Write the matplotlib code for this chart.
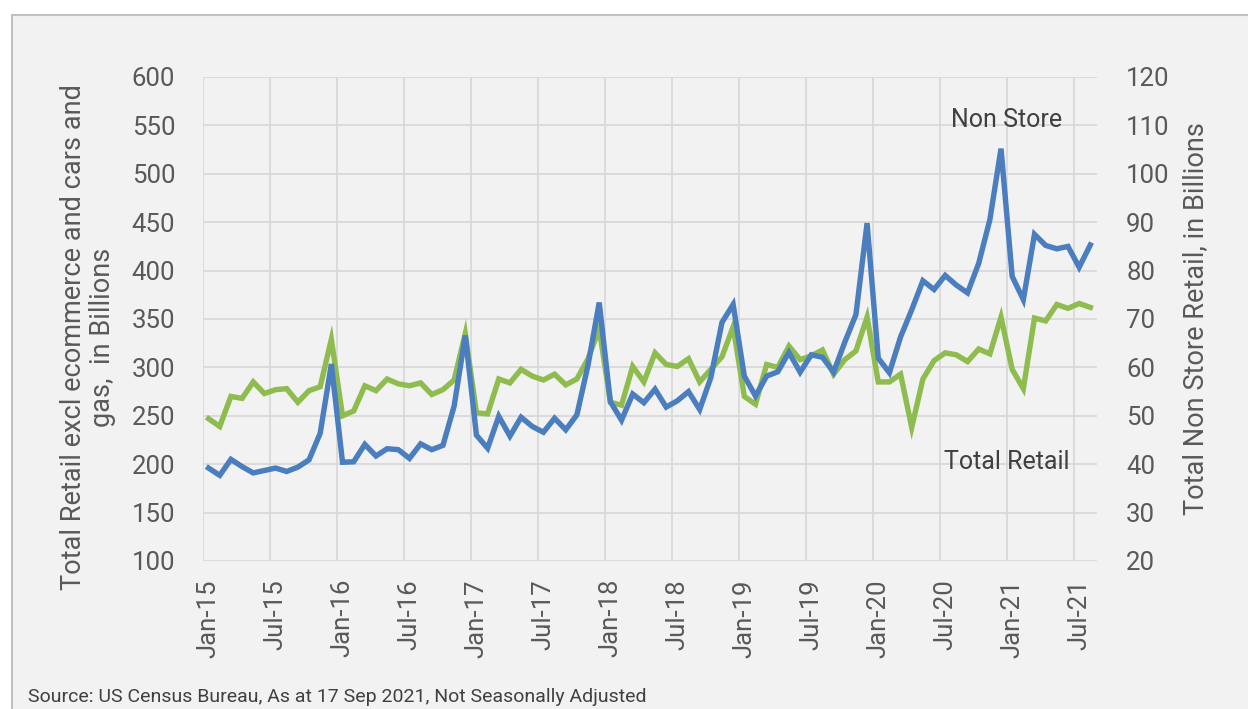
import matplotlib
matplotlib.use("Agg")
import matplotlib.pyplot as plt
from matplotlib.patches import Rectangle

# monthly data Jan-15 .. Aug-21
total_retail = [247, 239, 270, 268, 285, 273, 277, 278, 264, 276, 280, 329,
                250, 255, 281, 276, 288, 283, 281, 284, 272, 277, 287, 335,
                253, 252, 288, 284, 298, 291, 287, 293, 282, 288, 309, 340,
                264, 261, 301, 285, 315, 303, 301, 309, 285, 298, 311, 342,
                270, 262, 303, 300, 322, 308, 312, 318, 293, 308, 317, 352,
                285, 285, 293, 238, 288, 307, 315, 313, 306, 319, 314, 352,
                298, 278, 351, 348, 365, 361, 366, 362]
non_store = [39.2, 37.7, 41.0, 39.5, 38.2, 38.7, 39.2, 38.5, 39.4, 40.9, 46.4, 60.7,
             40.4, 40.5, 44.1, 41.7, 43.2, 43.0, 41.2, 44.2, 43.0, 43.9, 52.0, 66.6,
             46.0, 43.3, 49.9, 45.8, 49.7, 47.8, 46.6, 49.5, 47.1, 50.2, 60.5, 73.4,
             52.9, 49.1, 54.5, 52.7, 55.5, 51.8, 53.1, 55.0, 51.3, 57.9, 69.3, 73.0,
             58.2, 54.1, 58.2, 59.1, 63.1, 59.0, 62.6, 62.1, 59.0, 65.2, 70.9, 89.8,
             61.9, 58.9, 66.3, 71.9, 77.9, 76.1, 79.0, 77.0, 75.4, 81.5, 90.5, 105.2,
             78.8, 74.0, 87.5, 85.2, 84.5, 85.0, 80.7, 85.3]
tick_labels = ["Jan-15", "Jul-15", "Jan-16", "Jul-16", "Jan-17", "Jul-17", "Jan-18",
               "Jul-18", "Jan-19", "Jul-19", "Jan-20", "Jul-20", "Jan-21", "Jul-21"]

plt.rcParams['font.family'] = ['Roboto', 'DejaVu Sans']
txt = '#595959'
grid = '#d9d9d9'

fig = plt.figure(figsize=(12.48, 7.09), dpi=100)
fig.patch.set_facecolor('white')
bg = Rectangle((12/1248, -0.01), 1.0, 1 - 15/709 + 0.01, transform=fig.transFigure,
               facecolor='#f2f2f2', edgecolor='#c0c0c0', linewidth=1.5, zorder=-10)
fig.patches.append(bg)

ax = fig.add_axes([203/1248, 1 - 561/709, (1097 - 203)/1248, (561 - 77)/709])
ax2 = ax.twinx()
ax.set_zorder(1)
ax2.set_zorder(2)
ax.set_facecolor('none')
ax2.set_facecolor('none')

x = range(len(total_retail))
ax.plot(x, total_retail, color='#8fbc4f', linewidth=3.9, solid_joinstyle='miter', zorder=3)
ax2.plot(x, non_store, color='#4a7ebf', linewidth=3.9, solid_joinstyle='miter', zorder=4)

ax.set_xlim(-0.5, 79.6)
ax.set_ylim(100, 600)
ax2.set_ylim(20, 120)
ax.set_yticks(range(100, 601, 50))
ax2.set_yticks(range(20, 121, 10))
ax.set_xticks(range(0, 80, 6))
ax.set_xticklabels(tick_labels, rotation=90)
ax.set_xticks([i - 0.5 for i in range(0, 80, 6)], minor=True)

ax.grid(axis='y', color=grid, linewidth=1.3)
ax.grid(axis='x', which='minor', color=grid, linewidth=1.3)
ax.set_axisbelow(True)

for a in (ax, ax2):
    for s in a.spines.values():
        s.set_visible(False)
    a.tick_params(length=0, labelsize=18.5, colors=txt, which='both')
ax.tick_params(axis='y', pad=20)
ax2.tick_params(axis='y', pad=21)
ax.tick_params(axis='x', pad=13)

fig.text(88/1248, 1 - 337/709, "Total Retail excl ecommerce and cars and\ngas,  in Billions",
         rotation=90, ha='center', va='center', fontsize=19.5, color=txt, linespacing=1.05)
fig.text(1196/1248, 1 - 319/709, "Total Non Store Retail, in Billions",
         rotation=90, ha='center', va='center', fontsize=19.5, color=txt)

ax.text(71.5, 556, "Non Store", ha='center', va='center', fontsize=18, color='#404040')
ax.text(71.5, 202, "Total Retail", ha='center', va='center', fontsize=18, color='#404040')

fig.text(28/1248, 1 - 697/709, "Source: US Census Bureau, As at 17 Sep 2021, Not Seasonally Adjusted",
         ha='left', va='center', fontsize=14, color='#404040')

fig.savefig('out.png', dpi=100, facecolor=fig.get_facecolor())
